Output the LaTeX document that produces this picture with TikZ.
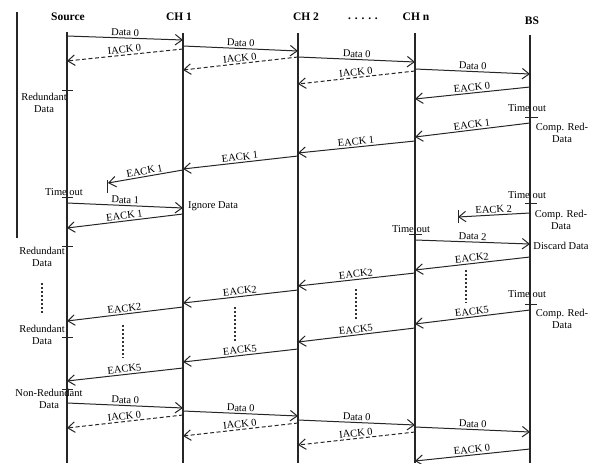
\documentclass[tikz,border=0pt]{standalone}
\usepackage{fontspec}
\setmainfont{Liberation Serif}
\usetikzlibrary{arrows.meta,calc}
\newcommand\msg[5]{%
  \coordinate (#1s) at (#2); \coordinate (#1e) at (#3);
  \draw[#4] (#1s) -- node[lbl]{#5} (#1e);}
\newcommand\tickmark[3]{%
  \coordinate (#1l) at (#2); \coordinate (#1r) at (#3);
  \draw[tick] (#1l) -- (#1r);}
\begin{document}
\begin{tikzpicture}[x=1pt,y=-1pt,
  lbl/.style={font=\fontsize{10.5}{12}\selectfont, sloped, above, inner sep=1.5pt, midway, text=black},
  txt/.style={font=\fontsize{10.5}{11.5}\selectfont, align=center, inner sep=0pt},
  hd/.style={font=\fontsize{11.5}{13}\selectfont\bfseries, inner sep=0pt},
  life/.style={line width=1.2pt, black!85},
  arr/.style={line width=1pt, black!85, -{Straight Barb[length=7pt,width=10.5pt,line width=1pt]}},
  darr/.style={arr, dash pattern=on 4pt off 2.5pt},
  tick/.style={line width=1pt, black!85},
  dots/.style={line width=1.3pt, black!80, dash pattern=on 2pt off 2pt}]
\useasboundingbox (0,0) rectangle (594,463);

% headers
\node[hd] (src) at (68,17) {Source};
\node[hd] (ch1) at (179,17) {CH 1};
\node[hd] (ch2) at (306,17) {CH 2};
\node[hd] (dd)  at (363,19) {. . . . .};
\node[hd] (chn) at (416,17) {CH n};
\node[hd] (bs)  at (532,21) {BS};

% lifelines
\coordinate (srcT) at (67,32);  \coordinate (srcB) at (67,463);
\coordinate (ch1T) at (183,33); \coordinate (ch1B) at (183,463);
\coordinate (ch2T) at (298,33); \coordinate (ch2B) at (298,463);
\coordinate (chnT) at (415,33); \coordinate (chnB) at (415,463);
\coordinate (bsT)  at (530,35); \coordinate (bsB)  at (530,463);
\draw[life] (srcT) -- (srcB);
\draw[life] (ch1T) -- (ch1B);
\draw[life] (ch2T) -- (ch2B);
\draw[life] (chnT) -- (chnB);
\draw[life] (bsT) -- (bsB);
\coordinate (leftT) at (17,12); \coordinate (leftB) at (17,238);
\draw[life] (leftT) -- (leftB);

% first round
\msg{da}{67,36}{183,40}{arr}{Data 0}
\msg{ia}{183,49}{67,61}{darr}{IACK 0}
\msg{db}{183,46}{298,51}{arr}{Data 0}
\msg{ib}{298,57}{183,70}{darr}{IACK 0}
\msg{dc}{298,57}{415,62}{arr}{Data 0}
\msg{ic}{415,71}{298,84}{darr}{IACK 0}
\msg{dd}{415,69}{530,74}{arr}{Data 0}
\msg{ea}{530,87}{415,99}{arr}{EACK 0}

% EACK 1
\msg{fa}{530,123}{415,137}{arr}{EACK 1}
\msg{fb}{415,141}{298,153}{arr}{EACK 1}
\msg{fc}{298,156}{183,169}{arr}{EACK 1}
\msg{fd}{183,170}{108,183}{arr}{EACK 1}
\coordinate (bar1t) at (107,180); \coordinate (bar1b) at (107,193);
\draw[tick] (bar1t) -- (bar1b);
\msg{ga}{67,203}{183,208}{arr}{Data 1}
\msg{gb}{183,214}{67,228}{arr}{EACK 1}

% EACK 2
\msg{ha}{530,213}{458,217}{arr}{EACK 2}
\coordinate (bar2t) at (458,210); \coordinate (bar2b) at (458,223);
\draw[tick] (bar2t) -- (bar2b);
\msg{hb}{415,240}{530,244}{arr}{Data 2}
\msg{hc}{530,257}{415,270}{arr}{EACK2}
\msg{hd}{415,273}{298,286}{arr}{EACK2}
\msg{he}{298,290}{183,303}{arr}{EACK2}
\msg{hf}{183,307}{67,321}{arr}{EACK2}

% EACK5
\msg{ka}{530,310}{415,324}{arr}{EACK5}
\msg{kb}{415,328}{298,342}{arr}{EACK5}
\msg{kc}{298,349}{183,362}{arr}{EACK5}
\msg{kd}{183,368}{67,381}{arr}{EACK5}

% last round
\msg{la}{67,403}{183,408}{arr}{Data 0}
\msg{lb}{183,415}{67,428}{darr}{IACK 0}
\msg{lc}{183,411}{298,416}{arr}{Data 0}
\msg{ld}{298,423}{183,436}{darr}{IACK 0}
\msg{le}{298,420}{415,425}{arr}{Data 0}
\msg{lf}{415,432}{298,445}{darr}{IACK 0}
\msg{lg}{415,427}{530,432}{arr}{Data 0}
\msg{lh}{530,449}{415,461}{arr}{EACK 0}

% dotted continuation marks
\coordinate (v1t) at (466,270); \coordinate (v1b) at (466,303); \draw[dots] (v1t) -- (v1b);
\coordinate (v2t) at (356,289); \coordinate (v2b) at (356,320); \draw[dots] (v2t) -- (v2b);
\coordinate (v3t) at (235,307); \coordinate (v3b) at (235,342); \draw[dots] (v3t) -- (v3b);
\coordinate (v4t) at (123,325); \coordinate (v4b) at (123,358); \draw[dots] (v4t) -- (v4b);
\coordinate (v5t) at (42,283);  \coordinate (v5b) at (42,313);  \draw[dots] (v5t) -- (v5b);

% source-side notes
\node[txt] (r1) at (44,103) {Redundant\\Data};
\tickmark{rt1}{62,90}{73,90}
\node[txt] (r2) at (42,257) {Redundant\\Data};
\tickmark{rt2}{62,246}{73,246}
\node[txt] (r3) at (42,335) {Redundant\\Data};
\tickmark{rt3}{62,337}{73,337}
\node[txt] (nr) at (49,399) {Non-Redundant\\Data};
\tickmark{rt4}{62,389}{73,389}
\node[txt] (to1) at (64,192) {Time out};
\tickmark{tt1}{62,197}{73,197}
\node[txt] (ign) at (213,206) {Ignore Data};

% BS-side notes
\node[txt] (to2) at (527,108) {Time out};
\tickmark{tt2}{525,117}{538,117}
\node[txt] (cr1) at (562,133) {Comp. Red-\\Data};
\node[txt] (to3) at (527,195) {Time out};
\tickmark{tt3}{525,203}{537,203}
\node[txt] (cr2) at (561,220) {Comp. Red-\\Data};
\node[txt] (to4) at (411,229) {Time out};
\tickmark{tt4}{409,234}{422,234}
\node[txt] (dis) at (561,246) {Discard Data};
\node[txt] (to5) at (527,294) {Time out};
\tickmark{tt5}{525,304}{537,304}
\node[txt] (cr3) at (562,319) {Comp. Red-\\Data};
\end{tikzpicture}
\end{document}
